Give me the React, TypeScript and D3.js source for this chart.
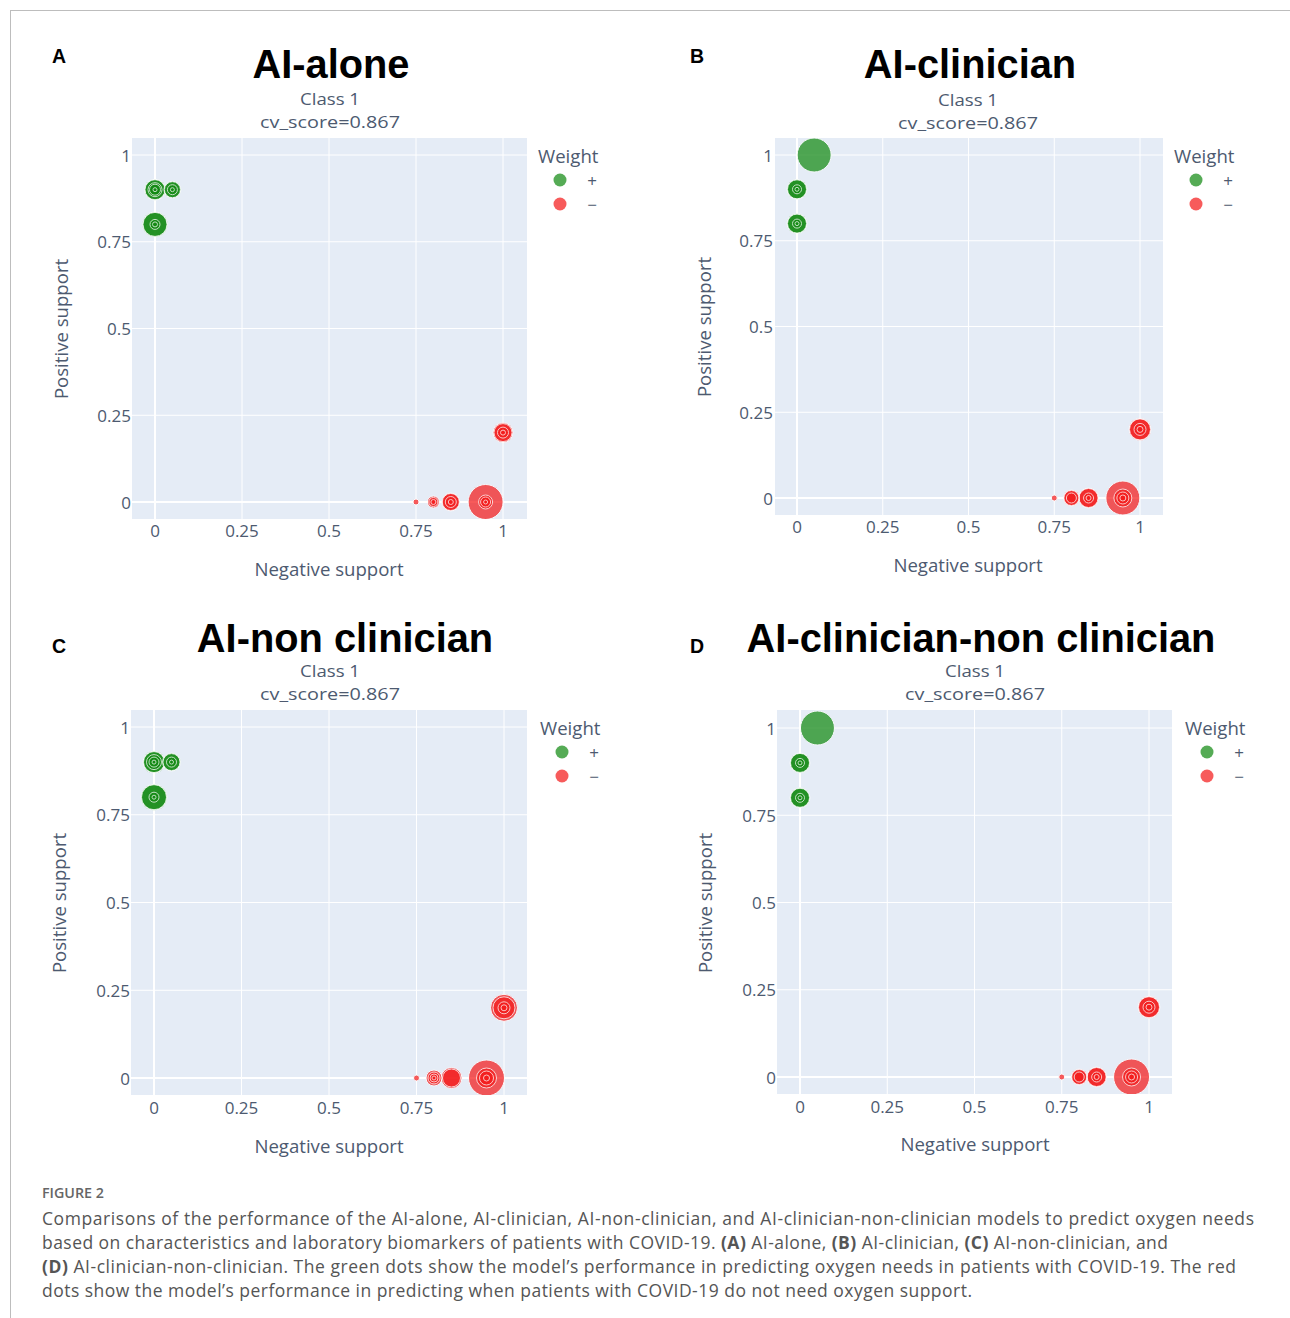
import React from "react";
import * as d3 from "d3";

// ---------- data ----------
const panelLetters = ["A", "B", "C", "D"];
const panelTitles = ["AI-alone", "AI-clinician", "AI-non clinician", "AI-clinician-non clinician"];
const subtitleClass = "Class 1";
const subtitleScore = "cv_score=0.867";
const xAxisTitle = "Negative support";
const yAxisTitle = "Positive support";
const legendTitle = "Weight";
const legendLabels = ["+", "−"];
const tickValues = [0, 0.25, 0.5, 0.75, 1];
const tickLabels = ["0", "0.25", "0.5", "0.75", "1"];

type Pt = { neg: number; pos: number; sign: "+" | "-"; size: number };

// each entry is one bubble (several bubbles share a position -> rings)
const pointsA: Pt[] = [
  { neg: 0, pos: 0.9, sign: "+", size: 10.5 }, { neg: 0, pos: 0.9, sign: "+", size: 10 }, { neg: 0, pos: 0.9, sign: "+", size: 7 }, { neg: 0, pos: 0.9, sign: "+", size: 5.5 }, { neg: 0, pos: 0.9, sign: "+", size: 2 },
  { neg: 0.05, pos: 0.9, sign: "+", size: 8.5 }, { neg: 0.05, pos: 0.9, sign: "+", size: 8 }, { neg: 0.05, pos: 0.9, sign: "+", size: 5 }, { neg: 0.05, pos: 0.9, sign: "+", size: 2 },
  { neg: 0, pos: 0.8, sign: "+", size: 12.5 }, { neg: 0, pos: 0.8, sign: "+", size: 12 }, { neg: 0, pos: 0.8, sign: "+", size: 5 }, { neg: 0, pos: 0.8, sign: "+", size: 2.5 },
  { neg: 1, pos: 0.2, sign: "-", size: 10 }, { neg: 1, pos: 0.2, sign: "-", size: 9 }, { neg: 1, pos: 0.2, sign: "-", size: 5.5 }, { neg: 1, pos: 0.2, sign: "-", size: 2.5 },
  { neg: 0.75, pos: 0, sign: "-", size: 3 },
  { neg: 0.8, pos: 0, sign: "-", size: 6 }, { neg: 0.8, pos: 0, sign: "-", size: 4.5 }, { neg: 0.8, pos: 0, sign: "-", size: 2.5 },
  { neg: 0.85, pos: 0, sign: "-", size: 9 }, { neg: 0.85, pos: 0, sign: "-", size: 8.5 }, { neg: 0.85, pos: 0, sign: "-", size: 5.5 }, { neg: 0.85, pos: 0, sign: "-", size: 2.5 },
  { neg: 0.95, pos: 0, sign: "-", size: 17.5 }, { neg: 0.95, pos: 0, sign: "-", size: 7 }, { neg: 0.95, pos: 0, sign: "-", size: 5 }, { neg: 0.95, pos: 0, sign: "-", size: 2 },
];
const pointsB: Pt[] = [
  { neg: 0.05, pos: 1, sign: "+", size: 17 },
  { neg: 0, pos: 0.9, sign: "+", size: 10 }, { neg: 0, pos: 0.9, sign: "+", size: 9.5 }, { neg: 0, pos: 0.9, sign: "+", size: 4.5 }, { neg: 0, pos: 0.9, sign: "+", size: 2 },
  { neg: 0, pos: 0.8, sign: "+", size: 10 }, { neg: 0, pos: 0.8, sign: "+", size: 9.5 }, { neg: 0, pos: 0.8, sign: "+", size: 4.5 }, { neg: 0, pos: 0.8, sign: "+", size: 2 },
  { neg: 1, pos: 0.2, sign: "-", size: 11 }, { neg: 1, pos: 0.2, sign: "-", size: 10.5 }, { neg: 1, pos: 0.2, sign: "-", size: 6 }, { neg: 1, pos: 0.2, sign: "-", size: 3 },
  { neg: 0.75, pos: 0, sign: "-", size: 3 },
  { neg: 0.8, pos: 0, sign: "-", size: 8 }, { neg: 0.8, pos: 0, sign: "-", size: 7.5 }, { neg: 0.8, pos: 0, sign: "-", size: 5 },
  { neg: 0.85, pos: 0, sign: "-", size: 10 }, { neg: 0.85, pos: 0, sign: "-", size: 9.5 }, { neg: 0.85, pos: 0, sign: "-", size: 5 }, { neg: 0.85, pos: 0, sign: "-", size: 2.5 },
  { neg: 0.95, pos: 0, sign: "-", size: 17 }, { neg: 0.95, pos: 0, sign: "-", size: 9 }, { neg: 0.95, pos: 0, sign: "-", size: 6 }, { neg: 0.95, pos: 0, sign: "-", size: 3 },
];
const pointsC: Pt[] = [
  { neg: 0, pos: 0.9, sign: "+", size: 11 }, { neg: 0, pos: 0.9, sign: "+", size: 10.5 }, { neg: 0, pos: 0.9, sign: "+", size: 7.5 }, { neg: 0, pos: 0.9, sign: "+", size: 5 }, { neg: 0, pos: 0.9, sign: "+", size: 2 },
  { neg: 0.05, pos: 0.9, sign: "+", size: 9 }, { neg: 0.05, pos: 0.9, sign: "+", size: 8.5 }, { neg: 0.05, pos: 0.9, sign: "+", size: 5 }, { neg: 0.05, pos: 0.9, sign: "+", size: 2 },
  { neg: 0, pos: 0.8, sign: "+", size: 13 }, { neg: 0, pos: 0.8, sign: "+", size: 12.5 }, { neg: 0, pos: 0.8, sign: "+", size: 5 }, { neg: 0, pos: 0.8, sign: "+", size: 2 },
  { neg: 1, pos: 0.2, sign: "-", size: 13.5 }, { neg: 1, pos: 0.2, sign: "-", size: 11 }, { neg: 1, pos: 0.2, sign: "-", size: 6 }, { neg: 1, pos: 0.2, sign: "-", size: 3 },
  { neg: 0.75, pos: 0, sign: "-", size: 3 },
  { neg: 0.8, pos: 0, sign: "-", size: 8 }, { neg: 0.8, pos: 0, sign: "-", size: 6 }, { neg: 0.8, pos: 0, sign: "-", size: 4 }, { neg: 0.8, pos: 0, sign: "-", size: 2 },
  { neg: 0.85, pos: 0, sign: "-", size: 10.5 }, { neg: 0.85, pos: 0, sign: "-", size: 9 },
  { neg: 0.95, pos: 0, sign: "-", size: 18 }, { neg: 0.95, pos: 0, sign: "-", size: 10 }, { neg: 0.95, pos: 0, sign: "-", size: 7 }, { neg: 0.95, pos: 0, sign: "-", size: 3 },
];
const pointsD: Pt[] = [
  { neg: 0.05, pos: 1, sign: "+", size: 17 },
  { neg: 0, pos: 0.9, sign: "+", size: 10 }, { neg: 0, pos: 0.9, sign: "+", size: 9.5 }, { neg: 0, pos: 0.9, sign: "+", size: 4.5 }, { neg: 0, pos: 0.9, sign: "+", size: 2 },
  { neg: 0, pos: 0.8, sign: "+", size: 10 }, { neg: 0, pos: 0.8, sign: "+", size: 9.5 }, { neg: 0, pos: 0.8, sign: "+", size: 4.5 }, { neg: 0, pos: 0.8, sign: "+", size: 2 },
  { neg: 1, pos: 0.2, sign: "-", size: 11 }, { neg: 1, pos: 0.2, sign: "-", size: 10.5 }, { neg: 1, pos: 0.2, sign: "-", size: 6 }, { neg: 1, pos: 0.2, sign: "-", size: 3 },
  { neg: 0.75, pos: 0, sign: "-", size: 3 },
  { neg: 0.8, pos: 0, sign: "-", size: 8 }, { neg: 0.8, pos: 0, sign: "-", size: 7.5 }, { neg: 0.8, pos: 0, sign: "-", size: 5 },
  { neg: 0.85, pos: 0, sign: "-", size: 10 }, { neg: 0.85, pos: 0, sign: "-", size: 9.5 }, { neg: 0.85, pos: 0, sign: "-", size: 5 }, { neg: 0.85, pos: 0, sign: "-", size: 2.5 },
  { neg: 0.95, pos: 0, sign: "-", size: 18 }, { neg: 0.95, pos: 0, sign: "-", size: 9 }, { neg: 0.95, pos: 0, sign: "-", size: 6 }, { neg: 0.95, pos: 0, sign: "-", size: 3 },
];
const panelPoints = [pointsA, pointsB, pointsC, pointsD];

const captionHead = "FIGURE 2";
const captionLines = [
  "Comparisons of the performance of the AI-alone, AI-clinician, AI-non-clinician, and AI-clinician-non-clinician models to predict oxygen needs",
  "based on characteristics and laboratory biomarkers of patients with COVID-19. |(A)| AI-alone, |(B)| AI-clinician, |(C)| AI-non-clinician, and",
  "|(D)| AI-clinician-non-clinician. The green dots show the model’s performance in predicting oxygen needs in patients with COVID-19. The red",
  "dots show the model’s performance in predicting when patients with COVID-19 do not need oxygen support.",
];
const captionWidths = [1212, 1126, 1194, 930];

// ---------- layout ----------
type Layout = {
  left: number; right: number; top: number; bottom: number;
  x0: number; x1: number; y0: number; y1: number;
  titleX: number; titleY: number; classX: number; classY: number; scoreY: number;
  xTickY: number; yTickRight: number; xTitleX: number; xTitleY: number;
  yTitleX: number; yTitleY: number; legX: number; legY: number; letterX: number; letterY: number;
};
const layouts: Layout[] = [
  { left: 132, right: 527, top: 138, bottom: 519, x0: 155, x1: 503, y0: 502, y1: 155,
    titleX: 331, titleY: 78, classX: 330, classY: 98, scoreY: 121, xTickY: 530, yTickRight: 131,
    xTitleX: 329, xTitleY: 568, yTitleX: 60, yTitleY: 329, legX: 538, legY: 155, letterX: 59, letterY: 56 },
  { left: 775, right: 1163, top: 138, bottom: 515, x0: 797, x1: 1140, y0: 498, y1: 155,
    titleX: 970, titleY: 78, classX: 968, classY: 99, scoreY: 122, xTickY: 526, yTickRight: 773,
    xTitleX: 968, xTitleY: 564, yTitleX: 703, yTitleY: 327, legX: 1174, legY: 155, letterX: 697, letterY: 56 },
  { left: 131, right: 527, top: 710, bottom: 1095, x0: 154, x1: 504, y0: 1078, y1: 727,
    titleX: 345, titleY: 652, classX: 330, classY: 670, scoreY: 693, xTickY: 1107, yTickRight: 130,
    xTitleX: 329, xTitleY: 1145, yTitleX: 58, yTitleY: 903, legX: 540, legY: 727, letterX: 59, letterY: 646 },
  { left: 777, right: 1172, top: 710, bottom: 1094, x0: 800, x1: 1149, y0: 1077, y1: 728,
    titleX: 981, titleY: 652, classX: 975, classY: 670, scoreY: 693, xTickY: 1106, yTickRight: 776,
    xTitleX: 975, xTitleY: 1143, yTitleX: 704, yTitleY: 903, legX: 1185, legY: 727, letterX: 697, letterY: 646 },
];

const GREEN = "#138a13";
const RED = "#f41c1c";
const BG = "#E5ECF6";
const TXT = "#4d5a70";
const SANS = "'Open Sans', sans-serif";
const ARIAL = "'Liberation Sans', Arial, sans-serif";

function Panel({ idx }: { idx: number }) {
  const L = layouts[idx];
  const pts = [...panelPoints[idx]].sort((a, b) => b.size - a.size);
  const x = d3.scaleLinear().domain([0, 1]).range([L.x0, L.x1]);
  const y = d3.scaleLinear().domain([0, 1]).range([L.y0, L.y1]);
  const clipId = `clip${idx}`;
  return (
    <g>
      <text x={L.letterX} y={L.letterY} fontFamily={ARIAL} fontWeight="bold" fontSize={19.5} textAnchor="middle" dominantBaseline="central" fill="#000">{panelLetters[idx]}</text>
      <text x={L.titleX} y={L.titleY} fontFamily={ARIAL} fontWeight="bold" fontSize={39.8} textAnchor="middle" fill="#000">{panelTitles[idx]}</text>
      <text x={L.classX - 30} y={L.classY} fontFamily={SANS} fontSize={16.8} dominantBaseline="central" fill={TXT} textLength={60} lengthAdjust="spacingAndGlyphs">{subtitleClass}</text>
      <text x={L.classX - 70} y={L.scoreY} fontFamily={SANS} fontSize={16.8} dominantBaseline="central" fill={TXT} textLength={140} lengthAdjust="spacingAndGlyphs">{subtitleScore}</text>
      <defs>
        <clipPath id={clipId}><rect x={L.left} y={L.top} width={L.right - L.left} height={L.bottom - L.top} /></clipPath>
      </defs>
      <rect x={L.left} y={L.top} width={L.right - L.left} height={L.bottom - L.top} fill={BG} />
      {tickValues.map((t, i) => (
        <g key={"g" + i}>
          <line x1={x(t)} x2={x(t)} y1={L.top} y2={L.bottom} stroke="#fff" strokeWidth={t === 0 ? 2 : 1} />
          <line y1={y(t)} y2={y(t)} x1={L.left} x2={L.right} stroke="#fff" strokeWidth={t === 0 ? 2 : 1} />
        </g>
      ))}
      <g clipPath={`url(#${clipId})`}>
        {pts.map((p, i) => (
          <circle key={i} cx={x(p.neg)} cy={y(p.pos)} r={p.size} fill={p.sign === "+" ? GREEN : RED} stroke="#fff" strokeWidth={1} opacity={0.72} />
        ))}
      </g>
      {tickValues.map((t, i) => (
        <text key={"xt" + i} x={x(t)} y={L.xTickY} fontFamily={SANS} fontSize={17} textAnchor="middle" dominantBaseline="central" fill={TXT}>{tickLabels[i]}</text>
      ))}
      {tickValues.map((t, i) => (
        <text key={"yt" + i} x={L.yTickRight} y={y(t)} fontFamily={SANS} fontSize={17} textAnchor="end" dominantBaseline="central" fill={TXT}>{tickLabels[i]}</text>
      ))}
      <text x={L.xTitleX} y={L.xTitleY} fontFamily={SANS} fontSize={18.6} textAnchor="middle" dominantBaseline="central" fill={TXT}>{xAxisTitle}</text>
      <text transform={`translate(${L.yTitleX},${L.yTitleY}) rotate(-90)`} fontFamily={SANS} fontSize={18.6} textAnchor="middle" dominantBaseline="central" fill={TXT}>{yAxisTitle}</text>
      <text x={L.legX} y={L.legY} fontFamily={SANS} fontSize={18.6} dominantBaseline="central" fill={TXT}>{legendTitle}</text>
      {legendLabels.map((lab, i) => (
        <g key={"lg" + i}>
          <circle cx={L.legX + 22} cy={L.legY + 25 + i * 24} r={6.5} fill={i === 0 ? GREEN : RED} opacity={0.72} />
          <text x={L.legX + 54} y={L.legY + 25 + i * 24} fontFamily={SANS} fontSize={17} textAnchor="middle" dominantBaseline="central" fill={TXT}>{lab}</text>
        </g>
      ))}
    </g>
  );
}

function CaptionLine({ text, y, w }: { text: string; y: number; w: number }) {
  const parts = text.split("|");
  return (
    <text x={42} y={y} fontFamily={SANS} fontSize={17.5} fill="#555" dominantBaseline="central" textLength={w} lengthAdjust="spacing">
      {parts.map((p, i) => (
        <tspan key={i} fontWeight={i % 2 === 1 ? "bold" : "normal"}>{p}</tspan>
      ))}
    </text>
  );
}

export default function App() {
  return (
    <svg width={1290} height={1318} style={{ position: "absolute", left: 0, top: 0, background: "#fff" }}>
      <rect x={0} y={0} width={1290} height={1318} fill="#fff" />
      <line x1={10} y1={10.5} x2={1290} y2={10.5} stroke="#bdbdbd" strokeWidth={1} />
      <line x1={10.5} y1={10} x2={10.5} y2={1318} stroke="#bdbdbd" strokeWidth={1} />
      {[0, 1, 2, 3].map((i) => <Panel key={i} idx={i} />)}
      <text x={42} y={1192} fontFamily={SANS} fontSize={14.3} fontWeight="600" fill="#666" dominantBaseline="central">{captionHead}</text>
      {captionLines.map((l, i) => <CaptionLine key={i} text={l} y={1218 + i * 24} w={captionWidths[i]} />)}
    </svg>
  );
}
